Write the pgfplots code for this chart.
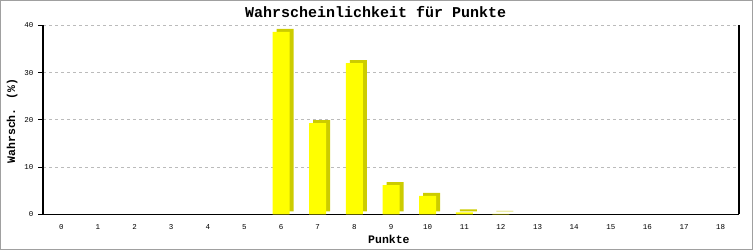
\documentclass[border=0pt]{standalone}
\usepackage{pgfplots}
\pgfplotsset{compat=1.18}
\usepackage{fontspec}
\setmainfont{Liberation Mono}
\definecolor{baryellow}{HTML}{FFFF00}
\definecolor{barshadow}{HTML}{CCCC00}
\definecolor{gridgray}{HTML}{BBBBBB}
\definecolor{framegray}{HTML}{A0A0A0}
\begin{document}
\begin{tikzpicture}
\useasboundingbox (0,0) rectangle (753pt,250pt);
\draw[framegray, line width=1pt] (0.5pt,0.5pt) rectangle (752.5pt,249.5pt);
\begin{axis}[
  at={(43pt,35.7pt)}, anchor=south west,
  scale only axis, width=696pt, height=189pt,
  xmin=-0.5, xmax=18.5, ymin=0, ymax=40,
  axis x line*=bottom, axis y line*=box,
  axis line style={black, line width=1.2pt},
  xtick={0,...,18}, ytick={0,10,20,30,40},
  xtick style={draw=none},
  ytick pos=left, tick align=outside, major tick length=5pt,
  ytick style={black, line width=1pt},
  ymajorgrids, grid style={gridgray, line width=1pt, dash pattern=on 3pt off 3pt},
  /pgf/number format/assume math mode=true,
  tick label style={font=\fontsize{7.5}{9}\selectfont},
  xticklabel style={yshift=-2pt},
  yticklabel style={xshift=-1pt},
  title={Wahrscheinlichkeit für Punkte},
  title style={at={(axis description cs:0.478,1.04)}, anchor=center, font=\fontsize{15}{17}\selectfont\bfseries},
  xlabel={Punkte},
  xlabel style={at={(axis description cs:0.497,-0.1307)}, anchor=center, font=\fontsize{11.5}{13}\selectfont\bfseries},
  ylabel={Wahrsch. (\%)},
  ylabel style={at={(axis description cs:-0.0445,0.494)}, anchor=center, rotate=0, font=\fontsize{11.5}{13}\selectfont\bfseries},
  clip=false,
]
\addplot[ybar, bar width=17pt, bar shift=4pt, fill=barshadow, draw=none, yshift=3pt]
  coordinates {(6,38.6) (7,19.3) (8,32.0) (9,6.2) (10,3.9) (11,0.4) (12,0.1)};
\addplot[ybar, bar width=17pt, bar shift=0pt, fill=baryellow, draw=none]
  coordinates {(6,38.6) (7,19.3) (8,32.0) (9,6.2) (10,3.9) (11,0.4) (12,0.1)};
\end{axis}
\end{tikzpicture}
\end{document}
